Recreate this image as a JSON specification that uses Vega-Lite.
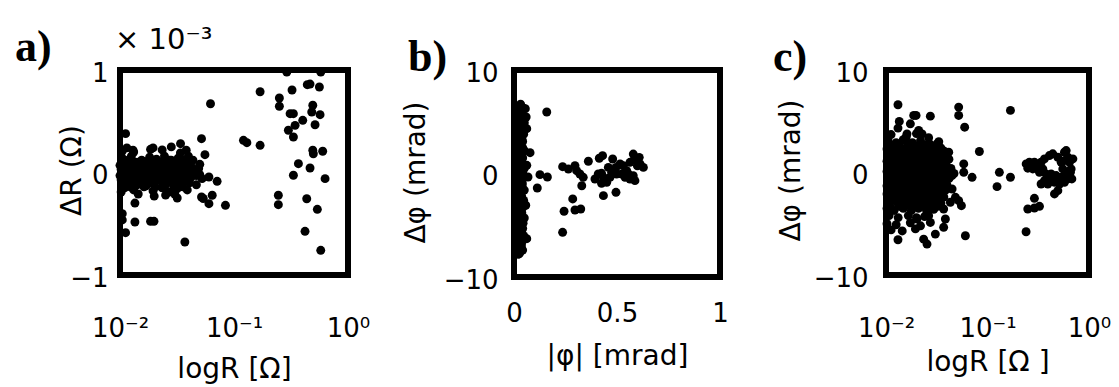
{
  "$schema": "https://vega.github.io/schema/vega-lite/v6.json",
  "padding": {"left": 12, "top": 23, "right": 5, "bottom": 5},
  "background": "white",
  "spacing": 166,
  "bounds": "flush",
  "config": {
    "view": {"stroke": "black", "strokeWidth": 6},
    "font": "DejaVu Sans",
    "axis": {
      "domain": false, "ticks": false, "tickSize": 0, "grid": false,
      "labelFont": "DejaVu Sans", "labelFontSize": 26, "labelColor": "black",
      "labelFlush": false, "labelOverlap": false, "format": "~r",
      "titleFont": "DejaVu Sans", "titleFontSize": 28, "titleFontWeight": "normal", "titleColor": "black"
    },
    "title": {
      "font": "Liberation Serif", "fontSize": 44, "fontWeight": "bold", "color": "black",
      "anchor": "start", "frame": "group", "baseline": "alphabetic"
    }
  },
  "hconcat": [
    {
      "width": 228, "height": 205,
      "title": {"text": "a)", "dx": -105, "offset": -44},
      "layer": [
        {
          "data": {"values": [
            {"logR": -1.97, "dR": 0.13}, {"logR": -1.90, "dR": 0.16}, {"logR": -1.81, "dR": 0.12}, {"logR": -1.74, "dR": 0.15},
            {"logR": -1.68, "dR": 0.13}, {"logR": -1.61, "dR": 0.16}, {"logR": -1.55, "dR": 0.12}, {"logR": -1.49, "dR": 0.14},
            {"logR": -1.43, "dR": 0.11},
            {"logR": -2.00, "dR": 0.07}, {"logR": -1.95, "dR": 0.09}, {"logR": -1.89, "dR": 0.06}, {"logR": -1.84, "dR": 0.10},
            {"logR": -1.78, "dR": 0.08}, {"logR": -1.72, "dR": 0.07}, {"logR": -1.66, "dR": 0.09}, {"logR": -1.60, "dR": 0.06},
            {"logR": -1.54, "dR": 0.08}, {"logR": -1.48, "dR": 0.10}, {"logR": -1.42, "dR": 0.07}, {"logR": -1.37, "dR": 0.05},
            {"logR": -1.99, "dR": 0.03}, {"logR": -1.93, "dR": 0.01}, {"logR": -1.87, "dR": 0.04}, {"logR": -1.82, "dR": 0.02},
            {"logR": -1.76, "dR": 0.00}, {"logR": -1.70, "dR": 0.03}, {"logR": -1.64, "dR": 0.01}, {"logR": -1.58, "dR": 0.04},
            {"logR": -1.52, "dR": 0.02}, {"logR": -1.46, "dR": 0.00}, {"logR": -1.40, "dR": 0.03}, {"logR": -1.34, "dR": 0.01},
            {"logR": -1.31, "dR": 0.04},
            {"logR": -2.00, "dR": -0.03}, {"logR": -1.96, "dR": -0.05}, {"logR": -1.90, "dR": -0.02}, {"logR": -1.85, "dR": -0.06},
            {"logR": -1.79, "dR": -0.04}, {"logR": -1.73, "dR": -0.02}, {"logR": -1.67, "dR": -0.05}, {"logR": -1.61, "dR": -0.03},
            {"logR": -1.55, "dR": -0.06}, {"logR": -1.49, "dR": -0.04}, {"logR": -1.43, "dR": -0.02}, {"logR": -1.38, "dR": -0.05},
            {"logR": -1.33, "dR": -0.03},
            {"logR": -1.98, "dR": -0.09}, {"logR": -1.92, "dR": -0.11}, {"logR": -1.86, "dR": -0.08}, {"logR": -1.80, "dR": -0.12},
            {"logR": -1.74, "dR": -0.10}, {"logR": -1.68, "dR": -0.08}, {"logR": -1.62, "dR": -0.11}, {"logR": -1.56, "dR": -0.09},
            {"logR": -1.50, "dR": -0.12}, {"logR": -1.44, "dR": -0.08}, {"logR": -1.39, "dR": -0.10},
            {"logR": -1.96, "dR": -0.15}, {"logR": -1.88, "dR": -0.17}, {"logR": -1.79, "dR": -0.14}, {"logR": -1.71, "dR": -0.18},
            {"logR": -1.63, "dR": -0.15}, {"logR": -1.57, "dR": -0.19}, {"logR": -1.50, "dR": -0.16}, {"logR": -1.45, "dR": -0.14},
            {"logR": -1.985, "dR": 0.11}, {"logR": -1.925, "dR": 0.12}, {"logR": -1.865, "dR": 0.10}, {"logR": -1.805, "dR": 0.11},
            {"logR": -1.745, "dR": 0.12}, {"logR": -1.685, "dR": 0.10}, {"logR": -1.625, "dR": 0.11}, {"logR": -1.565, "dR": 0.12},
            {"logR": -1.505, "dR": 0.10}, {"logR": -1.445, "dR": 0.12}, {"logR": -1.39, "dR": 0.10},
            {"logR": -1.97, "dR": 0.05}, {"logR": -1.91, "dR": 0.04}, {"logR": -1.85, "dR": 0.06}, {"logR": -1.79, "dR": 0.05},
            {"logR": -1.73, "dR": 0.04}, {"logR": -1.67, "dR": 0.06}, {"logR": -1.61, "dR": 0.05}, {"logR": -1.55, "dR": 0.04},
            {"logR": -1.49, "dR": 0.06}, {"logR": -1.43, "dR": 0.05}, {"logR": -1.36, "dR": 0.03},
            {"logR": -1.96, "dR": -0.01}, {"logR": -1.90, "dR": 0.00}, {"logR": -1.84, "dR": -0.02}, {"logR": -1.78, "dR": -0.01},
            {"logR": -1.72, "dR": 0.00}, {"logR": -1.66, "dR": -0.02}, {"logR": -1.60, "dR": -0.01}, {"logR": -1.54, "dR": 0.00},
            {"logR": -1.48, "dR": -0.02}, {"logR": -1.42, "dR": -0.01}, {"logR": -1.36, "dR": 0.00}, {"logR": -1.30, "dR": -0.02},
            {"logR": -1.99, "dR": -0.07}, {"logR": -1.93, "dR": -0.08}, {"logR": -1.87, "dR": -0.06}, {"logR": -1.81, "dR": -0.07},
            {"logR": -1.75, "dR": -0.08}, {"logR": -1.69, "dR": -0.06}, {"logR": -1.63, "dR": -0.07}, {"logR": -1.57, "dR": -0.08},
            {"logR": -1.51, "dR": -0.06}, {"logR": -1.45, "dR": -0.07}, {"logR": -1.40, "dR": -0.06},
            {"logR": -1.97, "dR": -0.13}, {"logR": -1.91, "dR": -0.14}, {"logR": -1.85, "dR": -0.12}, {"logR": -1.77, "dR": -0.13},
            {"logR": -1.69, "dR": -0.14}, {"logR": -1.60, "dR": -0.12}, {"logR": -1.53, "dR": -0.13}, {"logR": -1.47, "dR": -0.11},
            {"logR": -1.98, "dR": 0.21}, {"logR": -1.88, "dR": 0.20}, {"logR": -1.71, "dR": 0.24}, {"logR": -1.63, "dR": 0.22},
            {"logR": -1.55, "dR": 0.25}, {"logR": -1.47, "dR": 0.19}, {"logR": -1.40, "dR": 0.16}, {"logR": -1.36, "dR": 0.12},
            {"logR": -1.30, "dR": 0.08}, {"logR": -1.28, "dR": -0.06}, {"logR": -1.33, "dR": -0.12}, {"logR": -1.41, "dR": -0.17},
            {"logR": -1.60, "dR": -0.22}, {"logR": -1.70, "dR": -0.23}, {"logR": -1.84, "dR": -0.21}, {"logR": -1.99, "dR": -0.19},
            {"logR": -1.94, "dR": 0.24}, {"logR": -1.52, "dR": -0.21},
            {"logR": -1.206, "dR": 0.671}, {"logR": -1.951, "dR": 0.379}, {"logR": -1.285, "dR": 0.330}, {"logR": -1.469, "dR": 0.281},
            {"logR": -1.886, "dR": 0.217}, {"logR": -1.732, "dR": 0.226}, {"logR": -1.419, "dR": 0.217}, {"logR": -1.255, "dR": 0.174},
            {"logR": -1.220, "dR": -0.044}, {"logR": -1.148, "dR": -0.086}, {"logR": -1.285, "dR": -0.239}, {"logR": -1.270, "dR": -0.254},
            {"logR": -1.191, "dR": -0.222}, {"logR": -1.220, "dR": -0.304}, {"logR": -1.075, "dR": -0.320}, {"logR": -1.498, "dR": -0.249},
            {"logR": -1.869, "dR": -0.298}, {"logR": -1.980, "dR": -0.402}, {"logR": -1.980, "dR": -0.463}, {"logR": -1.869, "dR": -0.483},
            {"logR": -1.732, "dR": -0.476}, {"logR": -1.702, "dR": -0.476}, {"logR": -1.951, "dR": -0.587}, {"logR": -1.431, "dR": -0.678},
            {"logR": -0.537, "dR": 0.98}, {"logR": -0.239, "dR": 0.98}, {"logR": -0.771, "dR": 0.788}, {"logR": -0.491, "dR": 0.805},
            {"logR": -0.357, "dR": 0.857}, {"logR": -0.333, "dR": 0.863}, {"logR": -0.251, "dR": 0.834}, {"logR": -0.602, "dR": 0.727},
            {"logR": -0.602, "dR": 0.646}, {"logR": -0.508, "dR": 0.574}, {"logR": -0.479, "dR": 0.574}, {"logR": -0.309, "dR": 0.656},
            {"logR": -0.318, "dR": 0.590}, {"logR": -0.245, "dR": 0.564}, {"logR": -0.397, "dR": 0.509}, {"logR": -0.464, "dR": 0.460},
            {"logR": -0.289, "dR": 0.466}, {"logR": -0.523, "dR": 0.412}, {"logR": -0.479, "dR": 0.346}, {"logR": -0.917, "dR": 0.314},
            {"logR": -0.887, "dR": 0.291}, {"logR": -0.771, "dR": 0.265}, {"logR": -0.309, "dR": 0.217}, {"logR": -0.304, "dR": 0.183},
            {"logR": -0.222, "dR": 0.207}, {"logR": -0.435, "dR": 0.086}, {"logR": -0.333, "dR": 0.044}, {"logR": -0.479, "dR": -0.027},
            {"logR": -0.201, "dR": -0.060}, {"logR": -0.611, "dR": -0.222}, {"logR": -0.611, "dR": -0.314}, {"logR": -0.362, "dR": -0.256},
            {"logR": -0.269, "dR": -0.359}, {"logR": -0.377, "dR": -0.574}, {"logR": -0.239, "dR": -0.759}
          ]},
          "mark": {"type": "circle", "size": 80, "opacity": 1, "color": "black"},
          "encoding": {
            "x": {"field": "logR", "type": "quantitative", "scale": {"domain": [-2, 0], "nice": false, "zero": false},
                  "axis": {"values": [-2, -1, 0], "labelExpr": "datum.value == -2 ? '10⁻²' : datum.value == -1 ? '10⁻¹' : '10⁰'",
                           "labelBaseline": "alphabetic", "labelPadding": 61,
                           "title": "logR [Ω]", "titleBaseline": "alphabetic", "titleY": 102}},
            "y": {"field": "dR", "type": "quantitative", "scale": {"domain": [-1, 1], "nice": false},
                  "axis": {"values": [-1, 0, 1], "labelPadding": 12, "labelOffset": 3,
                           "title": "ΔR (Ω)", "titleX": -34, "titleY": 100}}
          }
        },
        {
          "data": {"values": [{"logR": -2, "dR": 1, "note": "× 10⁻³"}]},
          "mark": {"type": "text", "align": "left", "baseline": "alphabetic", "dx": -5, "dy": -21, "fontSize": 29, "font": "DejaVu Sans", "color": "black"},
          "encoding": {
            "x": {"field": "logR", "type": "quantitative"},
            "y": {"field": "dR", "type": "quantitative"},
            "text": {"field": "note"}
          }
        }
      ]
    },
    {
      "width": 206, "height": 207,
      "title": {"text": "b)", "dx": -106, "offset": -20},
      "data": {"values": [
        {"phi": 0.032, "dphi": 6.7}, {"phi": 0.047, "dphi": 6.3}, {"phi": 0.022, "dphi": 6.0}, {"phi": 0.042, "dphi": 5.6},
        {"phi": 0.027, "dphi": 5.2}, {"phi": 0.05, "dphi": 4.9}, {"phi": 0.017, "dphi": 4.6}, {"phi": 0.037, "dphi": 4.2},
        {"phi": 0.047, "dphi": 3.8}, {"phi": 0.022, "dphi": 3.5}, {"phi": 0.042, "dphi": 3.1}, {"phi": 0.032, "dphi": 2.7},
        {"phi": 0.017, "dphi": 2.4}, {"phi": 0.05, "dphi": 2.2}, {"phi": 0.027, "dphi": 1.9}, {"phi": 0.042, "dphi": 1.5},
        {"phi": 0.022, "dphi": 1.2}, {"phi": 0.037, "dphi": 0.8}, {"phi": 0.05, "dphi": 0.5}, {"phi": 0.017, "dphi": 0.3},
        {"phi": 0.032, "dphi": 0.0}, {"phi": 0.047, "dphi": -0.3}, {"phi": 0.022, "dphi": -0.6}, {"phi": 0.04, "dphi": -0.9},
        {"phi": 0.027, "dphi": -1.3}, {"phi": 0.05, "dphi": -1.6}, {"phi": 0.017, "dphi": -1.9}, {"phi": 0.037, "dphi": -2.2},
        {"phi": 0.047, "dphi": -2.6}, {"phi": 0.022, "dphi": -2.9}, {"phi": 0.042, "dphi": -3.3}, {"phi": 0.03, "dphi": -3.6},
        {"phi": 0.017, "dphi": -4.0}, {"phi": 0.05, "dphi": -4.3}, {"phi": 0.037, "dphi": -4.6}, {"phi": 0.022, "dphi": -5.0},
        {"phi": 0.042, "dphi": -5.3}, {"phi": 0.027, "dphi": -5.7}, {"phi": 0.047, "dphi": -6.0}, {"phi": 0.017, "dphi": -6.4},
        {"phi": 0.037, "dphi": -6.7}, {"phi": 0.024, "dphi": -7.1}, {"phi": 0.042, "dphi": -7.4}, {"phi": 0.02, "dphi": -7.8},
        {"phi": 0.032, "dphi": -5.9}, {"phi": 0.034, "dphi": 1.0}, {"phi": 0.024, "dphi": 3.9}, {"phi": 0.04, "dphi": -1.1},
        {"phi": 0.03, "dphi": 5.0}, {"phi": 0.044, "dphi": -4.8},
        {"phi": 0.034, "dphi": 6.5}, {"phi": 0.037, "dphi": 6.1}, {"phi": 0.032, "dphi": 5.8}, {"phi": 0.036, "dphi": 5.4},
        {"phi": 0.04, "dphi": 4.7}, {"phi": 0.032, "dphi": 4.4}, {"phi": 0.034, "dphi": 4.0}, {"phi": 0.038, "dphi": 3.3},
        {"phi": 0.03, "dphi": 2.9}, {"phi": 0.042, "dphi": 2.5}, {"phi": 0.034, "dphi": 2.0}, {"phi": 0.038, "dphi": 1.7},
        {"phi": 0.032, "dphi": 1.3}, {"phi": 0.028, "dphi": 0.6}, {"phi": 0.042, "dphi": 0.1}, {"phi": 0.034, "dphi": -0.4},
        {"phi": 0.03, "dphi": -0.8}, {"phi": 0.038, "dphi": -1.5}, {"phi": 0.032, "dphi": -2.0}, {"phi": 0.028, "dphi": -2.4},
        {"phi": 0.036, "dphi": -2.8}, {"phi": 0.034, "dphi": -3.1}, {"phi": 0.038, "dphi": -3.8}, {"phi": 0.032, "dphi": -4.2},
        {"phi": 0.028, "dphi": -4.5}, {"phi": 0.034, "dphi": -5.1}, {"phi": 0.038, "dphi": -5.5}, {"phi": 0.032, "dphi": -6.2},
        {"phi": 0.03, "dphi": -6.6}, {"phi": 0.036, "dphi": -7.0}, {"phi": 0.032, "dphi": -7.5},
        {"phi": 0.055, "dphi": 6.26}, {"phi": 0.059, "dphi": 5.46}, {"phi": 0.062, "dphi": 4.33}, {"phi": 0.159, "dphi": 5.94},
        {"phi": 0.078, "dphi": 2.01}, {"phi": 0.062, "dphi": 0.79}, {"phi": 0.068, "dphi": -0.34}, {"phi": 0.126, "dphi": -0.11},
        {"phi": 0.162, "dphi": -0.34}, {"phi": 0.113, "dphi": -1.40}, {"phi": 0.057, "dphi": -3.07}, {"phi": 0.062, "dphi": -6.30},
        {"phi": 0.012, "dphi": -6.88}, {"phi": 0.026, "dphi": -7.75},
        {"phi": 0.236, "dphi": 0.66}, {"phi": 0.264, "dphi": 0.43}, {"phi": 0.296, "dphi": 0.75}, {"phi": 0.304, "dphi": 0.27},
        {"phi": 0.320, "dphi": -0.05}, {"phi": 0.336, "dphi": -0.37}, {"phi": 0.329, "dphi": -1.18}, {"phi": 0.361, "dphi": 1.18},
        {"phi": 0.393, "dphi": -0.53}, {"phi": 0.414, "dphi": 1.47}, {"phi": 0.430, "dphi": 1.72}, {"phi": 0.479, "dphi": 1.40},
        {"phi": 0.425, "dphi": 0.02}, {"phi": 0.434, "dphi": -0.37}, {"phi": 0.425, "dphi": -0.95}, {"phi": 0.450, "dphi": -0.85},
        {"phi": 0.466, "dphi": -0.37}, {"phi": 0.474, "dphi": 0.11}, {"phi": 0.458, "dphi": 0.59}, {"phi": 0.495, "dphi": 0.59},
        {"phi": 0.515, "dphi": 0.92}, {"phi": 0.531, "dphi": 0.75}, {"phi": 0.547, "dphi": 0.27}, {"phi": 0.563, "dphi": 1.08},
        {"phi": 0.579, "dphi": 1.88}, {"phi": 0.587, "dphi": 1.40}, {"phi": 0.599, "dphi": 0.75}, {"phi": 0.612, "dphi": 0.92},
        {"phi": 0.579, "dphi": -0.21}, {"phi": 0.563, "dphi": -0.53}, {"phi": 0.539, "dphi": -0.37}, {"phi": 0.587, "dphi": -0.69},
        {"phi": 0.523, "dphi": -0.05}, {"phi": 0.434, "dphi": -2.14}, {"phi": 0.495, "dphi": -1.82}, {"phi": 0.285, "dphi": -2.46},
        {"phi": 0.296, "dphi": -3.53}, {"phi": 0.324, "dphi": -3.43}, {"phi": 0.243, "dphi": -3.65}, {"phi": 0.236, "dphi": -5.68},
        {"phi": 0.628, "dphi": 0.59}, {"phi": 0.608, "dphi": 1.56}, {"phi": 0.555, "dphi": -0.05}, {"phi": 0.498, "dphi": -0.05},
        {"phi": 0.409, "dphi": -0.05}
      ]},
      "mark": {"type": "circle", "size": 80, "opacity": 1, "color": "black"},
      "encoding": {
        "x": {"field": "phi", "type": "quantitative", "scale": {"domain": [0, 1], "nice": false},
              "axis": {"values": [0, 0.5, 1], "labelBaseline": "alphabetic", "labelPadding": 44,
                       "title": "|φ| [mrad]", "titleBaseline": "alphabetic", "titleY": 87}},
        "y": {"field": "dphi", "type": "quantitative", "scale": {"domain": [-10, 10], "nice": false},
              "axis": {"values": [-10, 0, 10], "labelPadding": 16, "labelOffset": 3,
                       "title": "Δφ (mrad)", "titleX": -84, "titleY": 102}}
      }
    },
    {
      "width": 203, "height": 205,
      "title": {"text": "c)", "dx": -113, "offset": -20},
      "data": {"values": [
        {"logR": -1.95, "dphi": 3.7}, {"logR": -1.80, "dphi": 3.5}, {"logR": -1.70, "dphi": 3.8}, {"logR": -1.58, "dphi": 3.4},
        {"logR": -1.98, "dphi": 3.1}, {"logR": -1.90, "dphi": 2.9}, {"logR": -1.83, "dphi": 3.2}, {"logR": -1.74, "dphi": 2.9},
        {"logR": -1.66, "dphi": 3.1}, {"logR": -1.57, "dphi": 2.8}, {"logR": -1.48, "dphi": 3.0},
        {"logR": -1.99, "dphi": 2.3}, {"logR": -1.93, "dphi": 2.5}, {"logR": -1.86, "dphi": 2.3}, {"logR": -1.79, "dphi": 2.6},
        {"logR": -1.72, "dphi": 2.3}, {"logR": -1.64, "dphi": 2.5}, {"logR": -1.55, "dphi": 2.2}, {"logR": -1.46, "dphi": 2.4},
        {"logR": -1.97, "dphi": 1.9}, {"logR": -1.91, "dphi": 1.7}, {"logR": -1.84, "dphi": 1.9}, {"logR": -1.77, "dphi": 1.7},
        {"logR": -1.70, "dphi": 2.0}, {"logR": -1.62, "dphi": 1.7}, {"logR": -1.55, "dphi": 1.9}, {"logR": -1.47, "dphi": 1.6},
        {"logR": -1.40, "dphi": 1.8},
        {"logR": -1.99, "dphi": 1.1}, {"logR": -1.93, "dphi": 1.3}, {"logR": -1.87, "dphi": 1.1}, {"logR": -1.80, "dphi": 1.3},
        {"logR": -1.73, "dphi": 1.0}, {"logR": -1.66, "dphi": 1.3}, {"logR": -1.60, "dphi": 1.1}, {"logR": -1.53, "dphi": 1.2},
        {"logR": -1.46, "dphi": 1.0}, {"logR": -1.38, "dphi": 1.3},
        {"logR": -1.96, "dphi": 0.7}, {"logR": -1.90, "dphi": 0.5}, {"logR": -1.84, "dphi": 0.7}, {"logR": -1.77, "dphi": 0.5},
        {"logR": -1.71, "dphi": 0.7}, {"logR": -1.65, "dphi": 0.4}, {"logR": -1.58, "dphi": 0.7}, {"logR": -1.51, "dphi": 0.5},
        {"logR": -1.44, "dphi": 0.6}, {"logR": -1.36, "dphi": 0.4},
        {"logR": -1.99, "dphi": 0.1}, {"logR": -1.93, "dphi": -0.1}, {"logR": -1.87, "dphi": 0.1}, {"logR": -1.81, "dphi": -0.1},
        {"logR": -1.74, "dphi": 0.0}, {"logR": -1.68, "dphi": 0.2}, {"logR": -1.62, "dphi": -0.1}, {"logR": -1.55, "dphi": 0.1},
        {"logR": -1.48, "dphi": -0.1}, {"logR": -1.41, "dphi": 0.1}, {"logR": -1.33, "dphi": -0.1},
        {"logR": -1.97, "dphi": -0.5}, {"logR": -1.91, "dphi": -0.7}, {"logR": -1.85, "dphi": -0.5}, {"logR": -1.78, "dphi": -0.7},
        {"logR": -1.72, "dphi": -0.5}, {"logR": -1.66, "dphi": -0.7}, {"logR": -1.59, "dphi": -0.5}, {"logR": -1.52, "dphi": -0.7},
        {"logR": -1.45, "dphi": -0.5}, {"logR": -1.38, "dphi": -0.6},
        {"logR": -1.99, "dphi": -1.3}, {"logR": -1.93, "dphi": -1.1}, {"logR": -1.86, "dphi": -1.3}, {"logR": -1.80, "dphi": -1.1},
        {"logR": -1.74, "dphi": -1.3}, {"logR": -1.67, "dphi": -1.1}, {"logR": -1.61, "dphi": -1.3}, {"logR": -1.54, "dphi": -1.1},
        {"logR": -1.47, "dphi": -1.3}, {"logR": -1.40, "dphi": -1.2},
        {"logR": -1.96, "dphi": -1.7}, {"logR": -1.90, "dphi": -1.9}, {"logR": -1.83, "dphi": -1.7}, {"logR": -1.76, "dphi": -1.9},
        {"logR": -1.70, "dphi": -1.7}, {"logR": -1.63, "dphi": -1.9}, {"logR": -1.56, "dphi": -1.7}, {"logR": -1.49, "dphi": -1.9},
        {"logR": -1.42, "dphi": -1.8},
        {"logR": -1.98, "dphi": -2.5}, {"logR": -1.92, "dphi": -2.3}, {"logR": -1.85, "dphi": -2.5}, {"logR": -1.78, "dphi": -2.3},
        {"logR": -1.71, "dphi": -2.5}, {"logR": -1.64, "dphi": -2.3}, {"logR": -1.57, "dphi": -2.5}, {"logR": -1.50, "dphi": -2.3},
        {"logR": -1.43, "dphi": -2.4},
        {"logR": -1.97, "dphi": -3.1}, {"logR": -1.89, "dphi": -2.9}, {"logR": -1.81, "dphi": -3.1}, {"logR": -1.74, "dphi": -2.9},
        {"logR": -1.66, "dphi": -3.1}, {"logR": -1.59, "dphi": -2.9}, {"logR": -1.52, "dphi": -3.1}, {"logR": -1.46, "dphi": -3.0},
        {"logR": -1.99, "dphi": -3.5}, {"logR": -1.92, "dphi": -3.7}, {"logR": -1.83, "dphi": -3.5}, {"logR": -1.75, "dphi": -3.7},
        {"logR": -1.68, "dphi": -3.5}, {"logR": -1.60, "dphi": -3.7}, {"logR": -1.53, "dphi": -3.6},
        {"logR": -1.97, "dphi": -4.2}, {"logR": -1.88, "dphi": -4.4}, {"logR": -1.78, "dphi": -4.2}, {"logR": -1.70, "dphi": -4.4},
        {"logR": -1.62, "dphi": -4.3},
        {"logR": -1.99, "dphi": -5.0}, {"logR": -1.90, "dphi": -5.1}, {"logR": -1.76, "dphi": -4.9}, {"logR": -1.66, "dphi": -5.2},
        {"logR": -1.95, "dphi": -5.6}, {"logR": -1.84, "dphi": -5.7}, {"logR": -1.71, "dphi": -5.5},
        {"logR": -1.96, "dphi": 2.7}, {"logR": -1.87, "dphi": 2.7}, {"logR": -1.78, "dphi": 2.8}, {"logR": -1.69, "dphi": 2.6},
        {"logR": -1.61, "dphi": 2.7}, {"logR": -1.52, "dphi": 2.6},
        {"logR": -1.95, "dphi": 2.1}, {"logR": -1.88, "dphi": 2.0}, {"logR": -1.81, "dphi": 2.2}, {"logR": -1.74, "dphi": 2.1},
        {"logR": -1.66, "dphi": 2.0}, {"logR": -1.59, "dphi": 2.1}, {"logR": -1.51, "dphi": 2.0}, {"logR": -1.43, "dphi": 2.1},
        {"logR": -1.98, "dphi": 1.5}, {"logR": -1.94, "dphi": 1.4}, {"logR": -1.87, "dphi": 1.5}, {"logR": -1.80, "dphi": 1.6},
        {"logR": -1.73, "dphi": 1.5}, {"logR": -1.66, "dphi": 1.4}, {"logR": -1.59, "dphi": 1.5}, {"logR": -1.51, "dphi": 1.4},
        {"logR": -1.44, "dphi": 1.5},
        {"logR": -1.98, "dphi": 0.9}, {"logR": -1.93, "dphi": 0.8}, {"logR": -1.87, "dphi": 0.9}, {"logR": -1.80, "dphi": 0.9},
        {"logR": -1.74, "dphi": 0.8}, {"logR": -1.68, "dphi": 0.9}, {"logR": -1.62, "dphi": 0.8}, {"logR": -1.55, "dphi": 0.9},
        {"logR": -1.48, "dphi": 0.8}, {"logR": -1.41, "dphi": 0.9},
        {"logR": -1.97, "dphi": 0.3}, {"logR": -1.90, "dphi": 0.2}, {"logR": -1.84, "dphi": 0.3}, {"logR": -1.78, "dphi": 0.2},
        {"logR": -1.71, "dphi": 0.3}, {"logR": -1.65, "dphi": 0.2}, {"logR": -1.58, "dphi": 0.3}, {"logR": -1.51, "dphi": 0.2},
        {"logR": -1.45, "dphi": 0.3}, {"logR": -1.38, "dphi": 0.2},
        {"logR": -1.98, "dphi": -0.3}, {"logR": -1.94, "dphi": -0.4}, {"logR": -1.88, "dphi": -0.3}, {"logR": -1.82, "dphi": -0.4},
        {"logR": -1.75, "dphi": -0.3}, {"logR": -1.69, "dphi": -0.4}, {"logR": -1.62, "dphi": -0.3}, {"logR": -1.56, "dphi": -0.4},
        {"logR": -1.49, "dphi": -0.3}, {"logR": -1.42, "dphi": -0.4}, {"logR": -1.35, "dphi": -0.3},
        {"logR": -1.96, "dphi": -0.9}, {"logR": -1.90, "dphi": -1.0}, {"logR": -1.83, "dphi": -0.9}, {"logR": -1.77, "dphi": -1.0},
        {"logR": -1.70, "dphi": -0.9}, {"logR": -1.64, "dphi": -0.9}, {"logR": -1.57, "dphi": -1.0}, {"logR": -1.50, "dphi": -0.9},
        {"logR": -1.43, "dphi": -0.9},
        {"logR": -1.98, "dphi": -1.5}, {"logR": -1.93, "dphi": -1.6}, {"logR": -1.87, "dphi": -1.5}, {"logR": -1.80, "dphi": -1.5},
        {"logR": -1.73, "dphi": -1.6}, {"logR": -1.66, "dphi": -1.5}, {"logR": -1.59, "dphi": -1.5}, {"logR": -1.52, "dphi": -1.6},
        {"logR": -1.45, "dphi": -1.5},
        {"logR": -1.99, "dphi": -2.1}, {"logR": -1.93, "dphi": -2.1}, {"logR": -1.86, "dphi": -2.0}, {"logR": -1.80, "dphi": -2.1},
        {"logR": -1.73, "dphi": -2.1}, {"logR": -1.67, "dphi": -2.0}, {"logR": -1.60, "dphi": -2.1}, {"logR": -1.53, "dphi": -2.1},
        {"logR": -1.46, "dphi": -2.0},
        {"logR": -1.95, "dphi": -2.7}, {"logR": -1.88, "dphi": -2.7}, {"logR": -1.81, "dphi": -2.6}, {"logR": -1.74, "dphi": -2.7},
        {"logR": -1.67, "dphi": -2.7}, {"logR": -1.61, "dphi": -2.6}, {"logR": -1.55, "dphi": -2.7}, {"logR": -1.48, "dphi": -2.7},
        {"logR": -1.96, "dphi": -3.3}, {"logR": -1.87, "dphi": -3.3}, {"logR": -1.79, "dphi": -3.2}, {"logR": -1.71, "dphi": -3.3},
        {"logR": -1.63, "dphi": -3.3}, {"logR": -1.56, "dphi": -3.2}, {"logR": -1.49, "dphi": -3.3},
        {"logR": -1.882, "dphi": 6.61}, {"logR": -1.727, "dphi": 5.57}, {"logR": -1.704, "dphi": 5.57}, {"logR": -1.563, "dphi": 5.50},
        {"logR": -1.284, "dphi": 6.38}, {"logR": -1.284, "dphi": 5.57}, {"logR": -1.225, "dphi": 4.42}, {"logR": -1.869, "dphi": 4.98},
        {"logR": -1.882, "dphi": 4.33}, {"logR": -1.760, "dphi": 4.75}, {"logR": -1.678, "dphi": 4.10}, {"logR": -1.645, "dphi": 3.77},
        {"logR": -1.793, "dphi": 3.77}, {"logR": -1.810, "dphi": 3.28}, {"logR": -1.497, "dphi": 2.80}, {"logR": -1.080, "dphi": 2.05},
        {"logR": -1.382, "dphi": 1.98}, {"logR": -1.234, "dphi": 0.84}, {"logR": -1.152, "dphi": -0.47}, {"logR": -1.234, "dphi": 0.02},
        {"logR": -1.284, "dphi": -2.75}, {"logR": -1.257, "dphi": -3.24}, {"logR": -1.366, "dphi": -2.91}, {"logR": -1.415, "dphi": -4.54},
        {"logR": -1.432, "dphi": -5.35}, {"logR": -1.514, "dphi": -6.01}, {"logR": -1.218, "dphi": -6.17}, {"logR": -1.882, "dphi": -6.56},
        {"logR": -1.629, "dphi": -6.50}, {"logR": -1.596, "dphi": -6.98}, {"logR": -1.580, "dphi": -4.21}, {"logR": -1.563, "dphi": -4.87},
        {"logR": -1.695, "dphi": -4.54}, {"logR": -1.432, "dphi": -3.56}, {"logR": -1.316, "dphi": -2.42}, {"logR": -1.349, "dphi": -1.61},
        {"logR": -0.774, "dphi": 6.06}, {"logR": -0.883, "dphi": 0.02}, {"logR": -0.774, "dphi": -0.46}, {"logR": -0.906, "dphi": -1.38},
        {"logR": -0.538, "dphi": -2.52}, {"logR": -0.603, "dphi": -3.56}, {"logR": -0.538, "dphi": -3.46}, {"logR": -0.488, "dphi": -3.30},
        {"logR": -0.620, "dphi": -5.78}, {"logR": -0.340, "dphi": -2.09}, {"logR": -0.307, "dphi": -1.77}, {"logR": -0.472, "dphi": -1.12},
        {"logR": -0.439, "dphi": 1.33}, {"logR": -0.390, "dphi": 1.65}, {"logR": -0.357, "dphi": 1.82}, {"logR": -0.307, "dphi": 1.49},
        {"logR": -0.242, "dphi": 1.98}, {"logR": -0.209, "dphi": 1.49}, {"logR": -0.192, "dphi": 1.00}, {"logR": -0.176, "dphi": 0.35},
        {"logR": -0.225, "dphi": -0.14}, {"logR": -0.209, "dphi": -0.63}, {"logR": -0.242, "dphi": -0.95}, {"logR": -0.291, "dphi": -1.12},
        {"logR": -0.340, "dphi": -0.95}, {"logR": -0.390, "dphi": -0.63}, {"logR": -0.423, "dphi": -0.14}, {"logR": -0.455, "dphi": 0.35},
        {"logR": -0.505, "dphi": 0.68}, {"logR": -0.538, "dphi": 1.00}, {"logR": -0.587, "dphi": 1.00}, {"logR": -0.603, "dphi": 0.42},
        {"logR": -0.472, "dphi": 1.00}, {"logR": -0.274, "dphi": 1.00}, {"logR": -0.258, "dphi": 0.35}, {"logR": -0.324, "dphi": -0.30},
        {"logR": -0.373, "dphi": -0.14}, {"logR": -0.406, "dphi": -1.12}, {"logR": -0.225, "dphi": 2.14}, {"logR": -0.183, "dphi": 0.02},
        {"logR": -0.169, "dphi": -0.63}, {"logR": -0.274, "dphi": -0.46}, {"logR": -0.488, "dphi": 0.02}, {"logR": -0.554, "dphi": 0.35},
        {"logR": -0.439, "dphi": -0.79}, {"logR": -0.619, "dphi": 0.84}, {"logR": -0.159, "dphi": 1.33}, {"logR": -0.242, "dphi": 1.16}
      ]},
      "mark": {"type": "circle", "size": 80, "opacity": 1, "color": "black"},
      "encoding": {
        "x": {"field": "logR", "type": "quantitative", "scale": {"domain": [-2, 0], "nice": false, "zero": false},
              "axis": {"values": [-2, -1, 0], "labelExpr": "datum.value == -2 ? '10⁻²' : datum.value == -1 ? '10⁻¹' : '10⁰'",
                       "labelBaseline": "alphabetic", "labelPadding": 61,
                       "title": "logR [Ω ]", "titleBaseline": "alphabetic", "titleY": 95}},
        "y": {"field": "dphi", "type": "quantitative", "scale": {"domain": [-10, 10], "nice": false},
              "axis": {"values": [-10, 0, 10], "labelPadding": 18, "labelOffset": 3,
                       "title": "Δφ (mrad)", "titleX": -81, "titleY": 100}}
      }
    }
  ]
}
